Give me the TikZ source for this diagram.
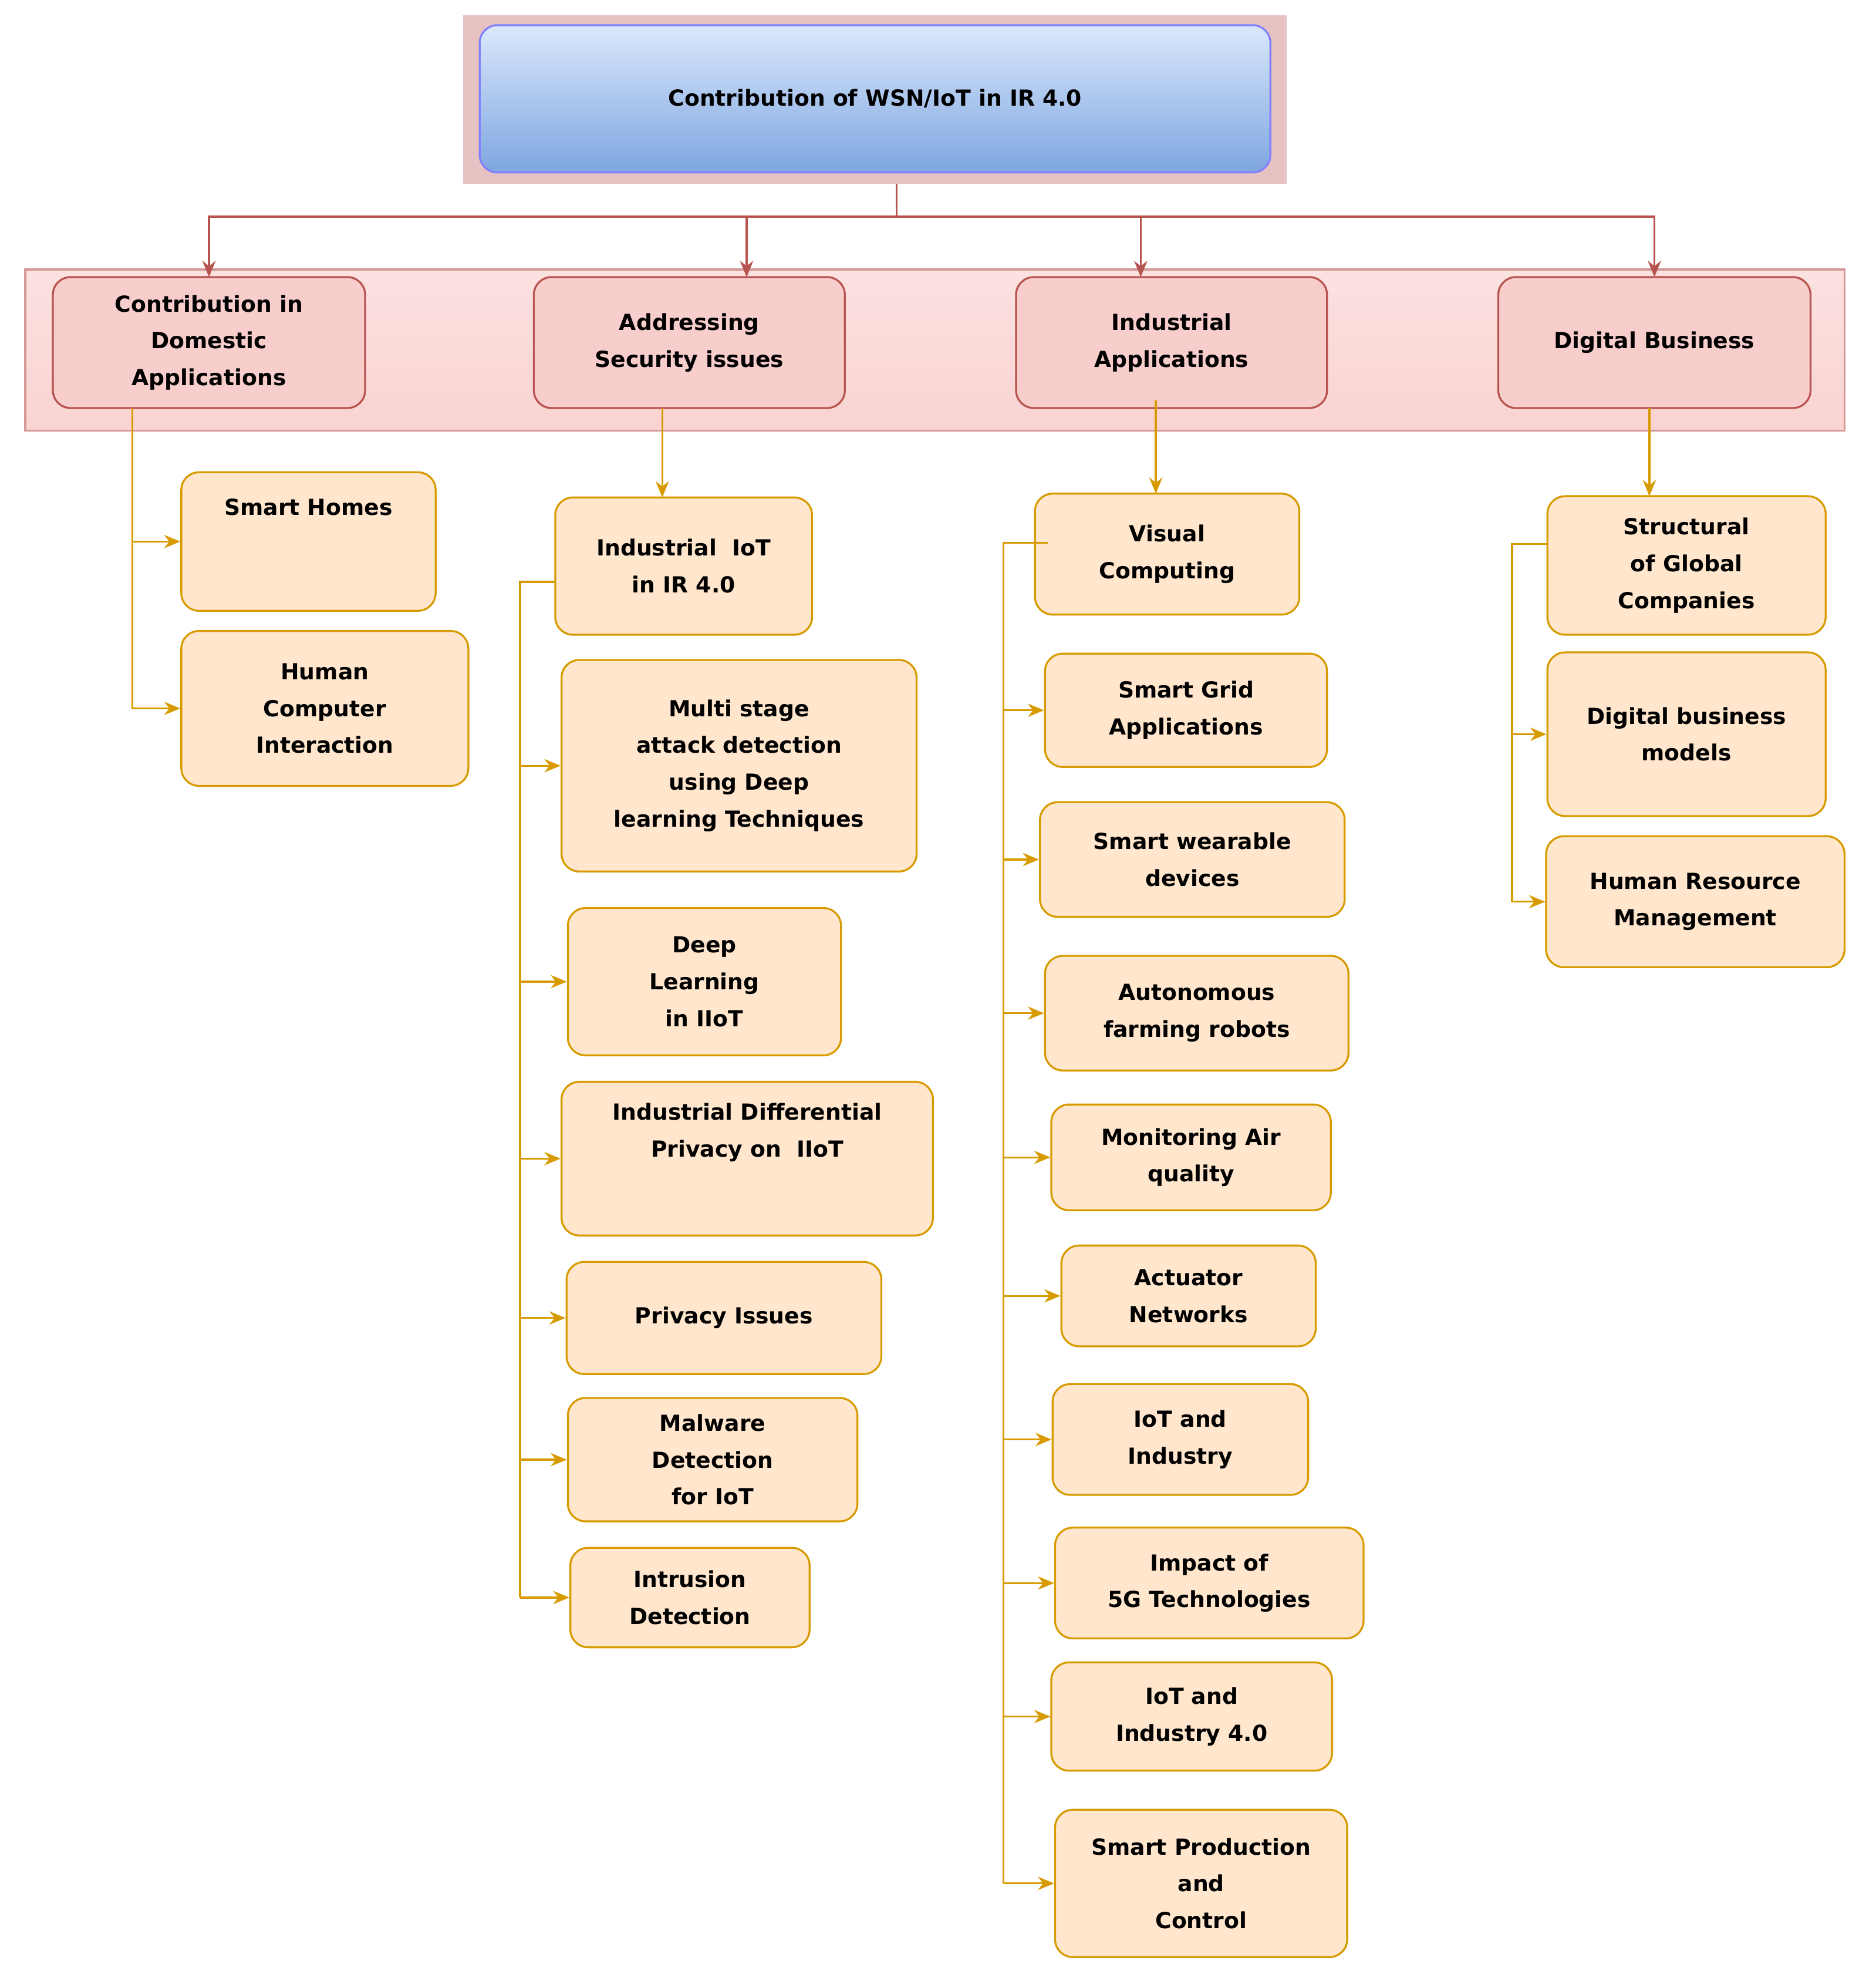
\documentclass[tikz,border=0pt]{standalone}
\usepackage{fontspec}
\setmainfont{DejaVu Sans}
\usetikzlibrary{arrows.meta}
\definecolor{rl}{HTML}{B85450}
\definecolor{rf}{HTML}{F8CECC}
\definecolor{ol}{HTML}{D79B00}
\definecolor{of}{HTML}{FFE6CC}
\tikzset{
 base/.style={rounded corners=12pt,line width=1.3pt,align=center,font=\fontsize{15}{25}\selectfont\bfseries,inner sep=0pt},
 rb/.style={base,draw=rl,fill=rf},
 ob/.style={base,draw=ol,fill=of},
 ra/.style={draw=rl,line width=1.3pt,-{Stealth[length=11pt,width=9pt]}},
 oa/.style={draw=ol,line width=1.3pt,-{Stealth[length=11pt,width=9pt]}},
 ol/.style={draw=ol,line width=1.3pt},
}
\newcommand\mybox[7]{\node[#6,minimum width={(#4-#2)*0.03cm},minimum height={(#5-#3)*0.03cm}] (#1) at ({(#2+#4)/2},{(#3+#5)/2}) {#7};}
\begin{document}
\begin{tikzpicture}[x=0.03cm,y=-0.03cm]
\useasboundingbox (0,0) rectangle (1490,1573);
\fill[fill=rl!35!white] (368,12) rectangle (1022,146);
\node[base,draw=rl!60!white,top color=rf!60!white,bottom color=rf!90!white,minimum width={1445*0.03cm},minimum height={128*0.03cm},rounded corners=0pt] (band) at (742.5,278) {};
\node[base,draw=blue!50!white,top color={rgb,255:red,218;green,232;blue,252},bottom color={rgb,255:red,126;green,166;blue,224},minimum width={628*0.03cm},minimum height={117*0.03cm}] (root) at (695,78.5) {Contribution of WSN/IoT in IR 4.0};
\mybox{c1}{42}{220}{290}{324}{rb}{Contribution in\\Domestic\\Applications}
\mybox{c2}{424}{220}{671}{324}{rb}{Addressing\\Security issues}
\mybox{c3}{807}{220}{1054}{324}{rb}{Industrial\\Applications}
\mybox{c4}{1190}{220}{1438}{324}{rb}{Digital Business}
\coordinate (hub) at (712,172);
\draw[rl,line width=1.3pt] (712,146) -- (hub);
\draw[ra] (hub) -| (166,220);
\draw[ra] (hub) -| (593,220);
\draw[ra] (hub) -| (906,220);
\draw[ra] (hub) -| (1314,220);
% column 1
\mybox{a1}{144}{375}{346}{485}{ob}{Smart Homes\\[22pt]\mbox{}}
\mybox{a2}{144}{501}{372}{624}{ob}{Human\\Computer\\Interaction}
\coordinate (t1) at (105,324);
\draw[ol] (t1) -- (105,563);
\draw[oa] (t1 |- a1.west) -- (a1.west);
\draw[oa] (t1 |- a2.west) -- (a2.west);
% column 2
\mybox{b0}{441}{395}{645}{504}{ob}{Industrial~ IoT\\in IR 4.0}
\draw[oa] (526,324) -- (526,395);
\mybox{b1}{446}{524}{728}{692}{ob}{Multi stage\\attack detection\\using Deep\\learning Techniques}
\mybox{b2}{451}{721}{668}{838}{ob}{Deep\\Learning\\in IIoT}
\mybox{b3}{446}{859}{741}{981}{ob}{Industrial Differential\\Privacy on~ IIoT\\[14pt]\mbox{}}
\mybox{b4}{450}{1002}{700}{1091}{ob}{Privacy Issues}
\mybox{b5}{451}{1110}{681}{1208}{ob}{Malware\\Detection\\for IoT}
\mybox{b6}{453}{1229}{643}{1308}{ob}{Intrusion\\Detection}
\coordinate (t2) at (413,462);
\draw[ol] (441,462) -- (t2) -- (t2 |- b6.west);
\foreach \n in {b1,b2,b3,b4,b5,b6} \draw[oa] (t2 |- \n.west) -- (\n.west);
% column 3
\mybox{d0}{822}{392}{1032}{488}{ob}{Visual\\Computing}
\draw[oa] (918,318) -- (918,392);
\mybox{d1}{830}{519}{1054}{609}{ob}{Smart Grid\\Applications}
\mybox{d2}{826}{637}{1068}{728}{ob}{Smart wearable\\devices}
\mybox{d3}{830}{759}{1071}{850}{ob}{Autonomous\\farming robots}
\mybox{d4}{835}{877}{1057}{961}{ob}{Monitoring Air\\quality}
\mybox{d5}{843}{989}{1045}{1069}{ob}{Actuator\\Networks}
\mybox{d6}{836}{1099}{1039}{1187}{ob}{IoT and\\Industry}
\mybox{d7}{838}{1213}{1083}{1301}{ob}{Impact of\\5G Technologies}
\mybox{d8}{835}{1320}{1058}{1406}{ob}{IoT and\\Industry 4.0}
\mybox{d9}{838}{1437}{1070}{1554}{ob}{Smart Production\\and\\Control}
\coordinate (t3) at (797,431);
\draw[ol] (832,431) -- (t3) -- (t3 |- d9.west);
\foreach \n in {d1,d2,d3,d4,d5,d6,d7,d8,d9} \draw[oa] (t3 |- \n.west) -- (\n.west);
% column 4
\mybox{e0}{1229}{394}{1450}{504}{ob}{Structural\\of Global\\Companies}
\draw[oa] (1310,324) -- (1310,394);
\mybox{e1}{1229}{518}{1450}{648}{ob}{Digital business\\models}
\mybox{e2}{1228}{664}{1465}{768}{ob}{Human Resource\\Management}
\coordinate (t4) at (1201,432);
\draw[ol] (1229,432) -- (t4) -- (t4 |- e2.west);
\foreach \n in {e1,e2} \draw[oa] (t4 |- \n.west) -- (\n.west);
\end{tikzpicture}
\end{document}
